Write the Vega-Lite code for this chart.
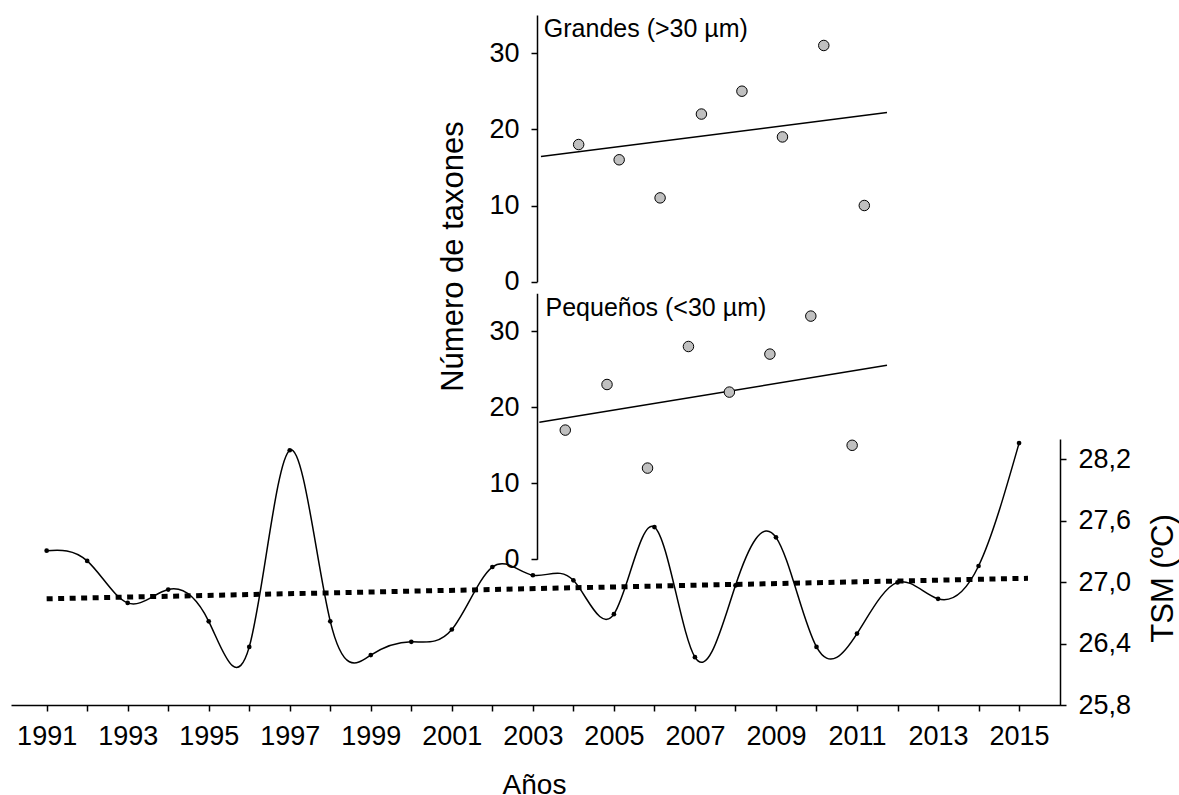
{
  "$schema": "https://vega.github.io/schema/vega-lite/v6.json",
  "autosize": "none",
  "width": 1049,
  "height": 705,
  "padding": {"left": 11, "top": 0, "right": 119, "bottom": 90},
  "background": "white",
  "config": {
    "view": {"stroke": null},
    "font": "Liberation Sans",
    "axis": {"labelFont": "Liberation Sans", "titleFont": "Liberation Sans", "labelColor": "black", "titleColor": "black", "domainColor": "black", "tickColor": "black", "titleFontWeight": "normal", "grid": false, "domainWidth": 1.5, "tickWidth": 1.5}
  },
  "datasets": {
    "tsm": [
      {"year": 1991, "t": 27.31}, {"year": 1992, "t": 27.21}, {"year": 1993, "t": 26.80},
      {"year": 1994, "t": 26.93}, {"year": 1995, "t": 26.62}, {"year": 1996, "t": 26.37},
      {"year": 1997, "t": 28.29}, {"year": 1998, "t": 26.62}, {"year": 1999, "t": 26.29},
      {"year": 2000, "t": 26.42}, {"year": 2001, "t": 26.54}, {"year": 2002, "t": 27.15},
      {"year": 2003, "t": 27.07}, {"year": 2004, "t": 27.02}, {"year": 2005, "t": 26.69},
      {"year": 2006, "t": 27.54}, {"year": 2007, "t": 26.27}, {"year": 2008, "t": 26.97},
      {"year": 2009, "t": 27.44}, {"year": 2010, "t": 26.37}, {"year": 2011, "t": 26.50},
      {"year": 2012, "t": 27.00}, {"year": 2013, "t": 26.84}, {"year": 2014, "t": 27.16},
      {"year": 2015, "t": 28.36}
    ],
    "trend": [{"year": 1991, "t": 26.84}, {"year": 2015.22, "t": 27.04}],
    "grandes": [
      {"year": 2004.13, "n": 18}, {"year": 2005.13, "n": 16}, {"year": 2006.14, "n": 11},
      {"year": 2007.16, "n": 22}, {"year": 2008.16, "n": 25}, {"year": 2009.16, "n": 19},
      {"year": 2010.18, "n": 31}, {"year": 2011.18, "n": 10}
    ],
    "grandesFit": [{"year": 2003.2, "n": 16.43}, {"year": 2011.74, "n": 22.2}],
    "pequenos": [
      {"year": 2003.80, "n": 17}, {"year": 2004.83, "n": 23}, {"year": 2005.83, "n": 12},
      {"year": 2006.84, "n": 28}, {"year": 2007.85, "n": 22}, {"year": 2008.85, "n": 27},
      {"year": 2009.86, "n": 32}, {"year": 2010.88, "n": 15}
    ],
    "pequenosFit": [{"year": 2003.16, "n": 18.03}, {"year": 2011.74, "n": 25.53}]
  },
  "layer": [
    {
      "encoding": {
        "x": {
          "field": "year", "type": "quantitative",
          "scale": {"domain": [1990.12, 2016.01], "nice": false, "zero": false},
          "axis": {
            "orient": "bottom",
            "title": "Años", "titleFontSize": 28, "titleX": 523, "titleY": 88, "titleBaseline": "alphabetic", "titleAlign": "center",
            "values": [1991,1992,1993,1994,1995,1996,1997,1998,1999,2000,2001,2002,2003,2004,2005,2006,2007,2008,2009,2010,2011,2012,2013,2014,2015],
            "labelExpr": "datum.value % 2 == 1 ? format(datum.value, 'd') : ''",
            "labelFontSize": 27, "labelPadding": 12, "tickSize": 6, "labelFlush": false, "labelOverlap": false
          }
        },
        "y": {
          "field": "t", "type": "quantitative",
          "scale": {"domain": [25.8, 28.4], "range": [705.3, 439], "nice": false, "zero": false},
          "axis": {
            "orient": "right", "title": "TSM (ºC)", "titleFontSize": 31,
            "titleAngle": 270, "titleX": 103, "titleY": 578, "titleAlign": "center", "titleBaseline": "middle",
            "values": [25.8, 26.4, 27.0, 27.6, 28.2],
            "labelExpr": "replace(format(datum.value, '.1f'), '.', ',')",
            "labelFontSize": 27, "labelPadding": 12, "tickSize": 6, "labelFlush": false
          }
        }
      },
      "layer": [
        {"data": {"name": "tsm"}, "mark": {"type": "line", "interpolate": "natural", "color": "black", "strokeWidth": 1.5}},
        {"data": {"name": "tsm"}, "mark": {"type": "point", "filled": true, "color": "black", "size": 22, "opacity": 1}},
        {"data": {"name": "trend"}, "mark": {"type": "line", "color": "black", "strokeWidth": 5, "strokeDash": [6, 5.5], "strokeCap": "butt"}}
      ]
    },
    {
      "encoding": {
        "x": {
          "field": "year", "type": "quantitative",
          "scale": {"domain": [1990.12, 2016.01], "nice": false, "zero": false},
          "axis": {
            "orient": "top", "domain": false, "ticks": false, "labels": false,
            "title": "Grandes (>30 µm)", "titleFontSize": 25, "titleAngle": 0,
            "titleAlign": "left", "titleBaseline": "alphabetic", "titleX": 532.3, "titleY": 36
          }
        },
        "y": {
          "field": "n", "type": "quantitative",
          "scale": {"domain": [0, 35], "range": [281.7, 15], "nice": false, "zero": false},
          "axis": {
            "orient": "left", "offset": -526, "values": [0, 10, 20, 30],
            "labelFontSize": 27, "labelPadding": 12, "tickSize": 6, "labelFlush": false,
            "title": "Número de taxones", "titleFontSize": 31, "titleAngle": 270,
            "titleX": -84, "titleY": 256, "titleAlign": "center", "titleBaseline": "middle"
          }
        }
      },
      "layer": [
        {"data": {"name": "grandesFit"}, "mark": {"type": "line", "color": "black", "strokeWidth": 1.5}},
        {"data": {"name": "grandes"}, "mark": {"type": "point", "filled": true, "fill": "#c0c0c0", "stroke": "black", "strokeWidth": 1, "size": 110, "opacity": 1}}
      ]
    },
    {
      "encoding": {
        "x": {
          "field": "year", "type": "quantitative",
          "scale": {"domain": [1990.12, 2016.01], "nice": false, "zero": false},
          "axis": {
            "orient": "top", "domain": false, "ticks": false, "labels": false,
            "title": "Pequeños (<30 µm)", "titleFontSize": 25, "titleAngle": 0,
            "titleAlign": "left", "titleBaseline": "alphabetic", "titleX": 534, "titleY": 315
          }
        },
        "y": {
          "field": "n", "type": "quantitative",
          "scale": {"domain": [0, 35], "range": [559.3, 293.3], "nice": false, "zero": false},
          "axis": {
            "orient": "left", "offset": -526, "values": [0, 10, 20, 30],
            "labelFontSize": 27, "labelPadding": 12, "tickSize": 6, "labelFlush": false,
            "title": null
          }
        }
      },
      "layer": [
        {"data": {"name": "pequenosFit"}, "mark": {"type": "line", "color": "black", "strokeWidth": 1.5}},
        {"data": {"name": "pequenos"}, "mark": {"type": "point", "filled": true, "fill": "#c0c0c0", "stroke": "black", "strokeWidth": 1, "size": 110, "opacity": 1}}
      ]
    }
  ],
  "resolve": {"scale": {"y": "independent"}, "axis": {"y": "independent", "x": "independent"}}
}
